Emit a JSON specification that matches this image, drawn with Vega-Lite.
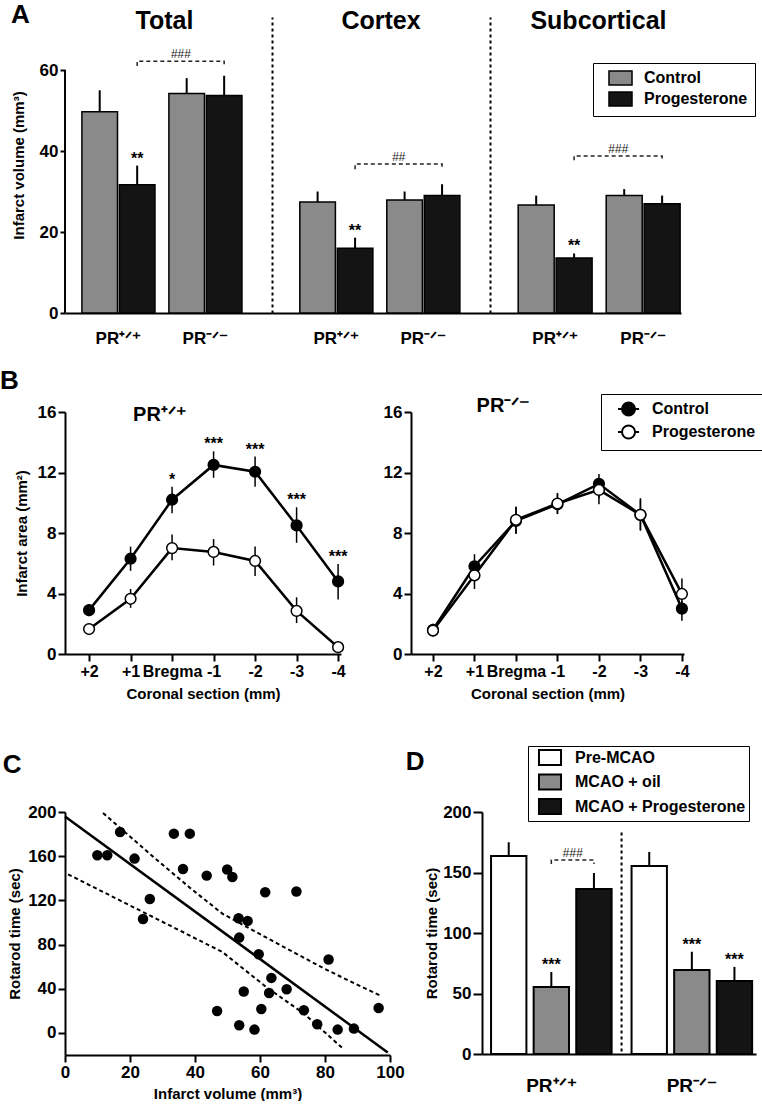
{
  "$schema": "https://vega.github.io/schema/vega-lite/v6.json",
  "background": "white",
  "padding": {"left": 0, "top": 2, "right": 0, "bottom": 0},
  "config": {
    "font": "Liberation Sans",
    "view": {"stroke": null},
    "axis": {
      "domainColor": "black", "domainWidth": 2, "tickColor": "black", "tickWidth": 2, "tickSize": 6, "minExtent": 0,
      "labelColor": "black", "labelFont": "Liberation Sans", "labelFontWeight": "bold", "labelFontSize": 17, "labelPadding": 2,
      "titleColor": "black", "titleFont": "Liberation Sans", "titleFontWeight": "bold", "titleFontSize": 15, "grid": false, "labelBound": false
    },
    "title": {"font": "Liberation Sans", "fontWeight": "bold", "color": "black"},
    "legend": {"labelFont": "Liberation Sans", "labelFontWeight": "bold", "labelFontSize": 16, "labelColor": "black", "strokeColor": "black", "padding": 7, "labelLimit": 300},
    "text": {"font": "Liberation Sans", "fontWeight": "bold", "color": "black"}
  },
  "datasets": {
    "barsA": [
      {"region": "Total", "genotype": "PR⁺ᐟ⁺", "treatment": "Control", "mean": 49.7, "hi": 55.0, "sig": null},
      {"region": "Total", "genotype": "PR⁺ᐟ⁺", "treatment": "Progesterone", "mean": 31.7, "hi": 36.4, "sig": "**"},
      {"region": "Total", "genotype": "PR⁻ᐟ⁻", "treatment": "Control", "mean": 54.2, "hi": 58.0, "sig": null},
      {"region": "Total", "genotype": "PR⁻ᐟ⁻", "treatment": "Progesterone", "mean": 53.7, "hi": 58.6, "sig": null},
      {"region": "Cortex", "genotype": "PR⁺ᐟ⁺", "treatment": "Control", "mean": 27.4, "hi": 30.0, "sig": null},
      {"region": "Cortex", "genotype": "PR⁺ᐟ⁺", "treatment": "Progesterone", "mean": 16.0, "hi": 18.6, "sig": "**"},
      {"region": "Cortex", "genotype": "PR⁻ᐟ⁻", "treatment": "Control", "mean": 27.9, "hi": 30.0, "sig": null},
      {"region": "Cortex", "genotype": "PR⁻ᐟ⁻", "treatment": "Progesterone", "mean": 29.0, "hi": 31.8, "sig": null},
      {"region": "Subcortical", "genotype": "PR⁺ᐟ⁺", "treatment": "Control", "mean": 26.7, "hi": 29.0, "sig": null},
      {"region": "Subcortical", "genotype": "PR⁺ᐟ⁺", "treatment": "Progesterone", "mean": 13.6, "hi": 14.7, "sig": "**"},
      {"region": "Subcortical", "genotype": "PR⁻ᐟ⁻", "treatment": "Control", "mean": 29.0, "hi": 30.6, "sig": null},
      {"region": "Subcortical", "genotype": "PR⁻ᐟ⁻", "treatment": "Progesterone", "mean": 27.0, "hi": 29.0, "sig": null}
    ],
    "bracketsA": [
      {"region": "Total", "genotype": "PR⁺ᐟ⁺", "treatment": "Progesterone", "y": 61.0, "ord": 1, "label": null},
      {"region": "Total", "genotype": "PR⁺ᐟ⁺", "treatment": "Progesterone", "y": 62.2, "ord": 2, "label": "###"},
      {"region": "Total", "genotype": "PR⁻ᐟ⁻", "treatment": "Progesterone", "y": 62.2, "ord": 3, "label": null},
      {"region": "Total", "genotype": "PR⁻ᐟ⁻", "treatment": "Progesterone", "y": 61.0, "ord": 4, "label": null},
      {"region": "Cortex", "genotype": "PR⁺ᐟ⁺", "treatment": "Progesterone", "y": 35.5, "ord": 1, "label": null},
      {"region": "Cortex", "genotype": "PR⁺ᐟ⁺", "treatment": "Progesterone", "y": 36.8, "ord": 2, "label": "##"},
      {"region": "Cortex", "genotype": "PR⁻ᐟ⁻", "treatment": "Progesterone", "y": 36.8, "ord": 3, "label": null},
      {"region": "Cortex", "genotype": "PR⁻ᐟ⁻", "treatment": "Progesterone", "y": 35.5, "ord": 4, "label": null},
      {"region": "Subcortical", "genotype": "PR⁺ᐟ⁺", "treatment": "Progesterone", "y": 37.7, "ord": 1, "label": null},
      {"region": "Subcortical", "genotype": "PR⁺ᐟ⁺", "treatment": "Progesterone", "y": 38.8, "ord": 2, "label": "###"},
      {"region": "Subcortical", "genotype": "PR⁻ᐟ⁻", "treatment": "Progesterone", "y": 38.8, "ord": 3, "label": null},
      {"region": "Subcortical", "genotype": "PR⁻ᐟ⁻", "treatment": "Progesterone", "y": 37.7, "ord": 4, "label": null}
    ],
    "lineB": [
      {"genotype": "PR⁺ᐟ⁺", "treatment": "Control", "section": 2, "mean": 2.9, "lo": 2.5, "hi": 3.3, "sig": null},
      {"genotype": "PR⁺ᐟ⁺", "treatment": "Control", "section": 1, "mean": 6.3, "lo": 5.5, "hi": 7.1, "sig": null},
      {"genotype": "PR⁺ᐟ⁺", "treatment": "Control", "section": 0, "mean": 10.2, "lo": 9.3, "hi": 11.05, "sig": "*"},
      {"genotype": "PR⁺ᐟ⁺", "treatment": "Control", "section": -1, "mean": 12.5, "lo": 11.65, "hi": 13.4, "sig": "***"},
      {"genotype": "PR⁺ᐟ⁺", "treatment": "Control", "section": -2, "mean": 12.05, "lo": 11.05, "hi": 13.05, "sig": "***"},
      {"genotype": "PR⁺ᐟ⁺", "treatment": "Control", "section": -3, "mean": 8.5, "lo": 7.35, "hi": 9.7, "sig": "***"},
      {"genotype": "PR⁺ᐟ⁺", "treatment": "Control", "section": -4, "mean": 4.8, "lo": 3.6, "hi": 5.95, "sig": "***"},
      {"genotype": "PR⁺ᐟ⁺", "treatment": "Progesterone", "section": 2, "mean": 1.65, "lo": 1.35, "hi": 1.95, "sig": null},
      {"genotype": "PR⁺ᐟ⁺", "treatment": "Progesterone", "section": 1, "mean": 3.65, "lo": 3.05, "hi": 4.3, "sig": null},
      {"genotype": "PR⁺ᐟ⁺", "treatment": "Progesterone", "section": 0, "mean": 7.0, "lo": 6.2, "hi": 7.9, "sig": null},
      {"genotype": "PR⁺ᐟ⁺", "treatment": "Progesterone", "section": -1, "mean": 6.75, "lo": 5.85, "hi": 7.6, "sig": null},
      {"genotype": "PR⁺ᐟ⁺", "treatment": "Progesterone", "section": -2, "mean": 6.15, "lo": 5.15, "hi": 7.1, "sig": null},
      {"genotype": "PR⁺ᐟ⁺", "treatment": "Progesterone", "section": -3, "mean": 2.85, "lo": 2.05, "hi": 3.75, "sig": null},
      {"genotype": "PR⁺ᐟ⁺", "treatment": "Progesterone", "section": -4, "mean": 0.45, "lo": 0.3, "hi": 0.6, "sig": null},
      {"genotype": "PR⁻ᐟ⁻", "treatment": "Control", "section": 2, "mean": 1.6, "lo": 1.2, "hi": 2.0, "sig": null},
      {"genotype": "PR⁻ᐟ⁻", "treatment": "Control", "section": 1, "mean": 5.8, "lo": 5.0, "hi": 6.6, "sig": null},
      {"genotype": "PR⁻ᐟ⁻", "treatment": "Control", "section": 0, "mean": 8.8, "lo": 7.95, "hi": 9.7, "sig": null},
      {"genotype": "PR⁻ᐟ⁻", "treatment": "Control", "section": -1, "mean": 9.9, "lo": 9.25, "hi": 10.6, "sig": null},
      {"genotype": "PR⁻ᐟ⁻", "treatment": "Control", "section": -2, "mean": 11.25, "lo": 10.3, "hi": 11.9, "sig": null},
      {"genotype": "PR⁻ᐟ⁻", "treatment": "Control", "section": -3, "mean": 9.2, "lo": 8.2, "hi": 10.2, "sig": null},
      {"genotype": "PR⁻ᐟ⁻", "treatment": "Control", "section": -4, "mean": 3.0, "lo": 2.2, "hi": 3.5, "sig": null},
      {"genotype": "PR⁻ᐟ⁻", "treatment": "Progesterone", "section": 2, "mean": 1.55, "lo": 1.15, "hi": 1.95, "sig": null},
      {"genotype": "PR⁻ᐟ⁻", "treatment": "Progesterone", "section": 1, "mean": 5.2, "lo": 4.3, "hi": 6.0, "sig": null},
      {"genotype": "PR⁻ᐟ⁻", "treatment": "Progesterone", "section": 0, "mean": 8.87, "lo": 7.95, "hi": 9.75, "sig": null},
      {"genotype": "PR⁻ᐟ⁻", "treatment": "Progesterone", "section": -1, "mean": 9.95, "lo": 9.25, "hi": 10.65, "sig": null},
      {"genotype": "PR⁻ᐟ⁻", "treatment": "Progesterone", "section": -2, "mean": 10.85, "lo": 9.9, "hi": 11.5, "sig": null},
      {"genotype": "PR⁻ᐟ⁻", "treatment": "Progesterone", "section": -3, "mean": 9.2, "lo": 8.15, "hi": 10.3, "sig": null},
      {"genotype": "PR⁻ᐟ⁻", "treatment": "Progesterone", "section": -4, "mean": 3.97, "lo": 3.05, "hi": 5.0, "sig": null}
    ],
    "scatterC": [
      {"x": 9.95, "y": 160.8}, {"x": 13.0, "y": 160.8}, {"x": 16.95, "y": 181.9}, {"x": 21.4, "y": 157.8},
      {"x": 26.1, "y": 121.3}, {"x": 24.0, "y": 103.2}, {"x": 33.5, "y": 180.4}, {"x": 38.4, "y": 180.4},
      {"x": 36.3, "y": 148.4}, {"x": 43.6, "y": 142.4}, {"x": 46.8, "y": 19.9}, {"x": 49.9, "y": 147.9},
      {"x": 51.5, "y": 141.2}, {"x": 61.6, "y": 127.3}, {"x": 71.2, "y": 128.0}, {"x": 53.4, "y": 103.8},
      {"x": 56.2, "y": 101.4}, {"x": 53.6, "y": 86.3}, {"x": 59.6, "y": 71.2}, {"x": 81.1, "y": 66.4},
      {"x": 63.5, "y": 49.8}, {"x": 62.8, "y": 36.2}, {"x": 68.2, "y": 39.5}, {"x": 55.0, "y": 37.5},
      {"x": 60.4, "y": 21.7}, {"x": 73.5, "y": 20.5}, {"x": 96.5, "y": 22.6}, {"x": 53.6, "y": 7.0},
      {"x": 58.3, "y": 3.0}, {"x": 77.6, "y": 7.9}, {"x": 83.9, "y": 3.0}, {"x": 88.9, "y": 3.9}
    ],
    "fitC": [
      {"series": "fit", "x": 0, "y": 196},
      {"series": "fit", "x": 99.3, "y": -17.7},
      {"series": "upper", "x": 11.7, "y": 199.1},
      {"series": "upper", "x": 27.9, "y": 157.5},
      {"series": "upper", "x": 38.4, "y": 131.5},
      {"series": "upper", "x": 48.4, "y": 108.0},
      {"series": "upper", "x": 64.0, "y": 83.0},
      {"series": "upper", "x": 79.7, "y": 58.3},
      {"series": "upper", "x": 90.2, "y": 43.2},
      {"series": "upper", "x": 97.5, "y": 33.2},
      {"series": "lower", "x": 0.94, "y": 143.6},
      {"series": "lower", "x": 48.4, "y": 73.3},
      {"series": "lower", "x": 61.9, "y": 41.6},
      {"series": "lower", "x": 73.5, "y": 17.5},
      {"series": "lower", "x": 85.5, "y": -14.1}
    ],
    "barsD": [
      {"genotype": "PR⁺ᐟ⁺", "group": "Pre-MCAO", "mean": 163.6, "hi": 175.0, "sig": null},
      {"genotype": "PR⁺ᐟ⁺", "group": "MCAO + oil", "mean": 55.4, "hi": 67.8, "sig": "***"},
      {"genotype": "PR⁺ᐟ⁺", "group": "MCAO + Progesterone", "mean": 136.4, "hi": 149.6, "sig": null},
      {"genotype": "PR⁻ᐟ⁻", "group": "Pre-MCAO", "mean": 155.4, "hi": 167.0, "sig": null},
      {"genotype": "PR⁻ᐟ⁻", "group": "MCAO + oil", "mean": 69.4, "hi": 84.5, "sig": "***"},
      {"genotype": "PR⁻ᐟ⁻", "group": "MCAO + Progesterone", "mean": 60.4, "hi": 72.0, "sig": "***"}
    ],
    "bracketD": [
      {"genotype": "PR⁺ᐟ⁺", "group": "MCAO + oil", "y": 157, "ord": 1, "label": null},
      {"genotype": "PR⁺ᐟ⁺", "group": "MCAO + oil", "y": 160.3, "ord": 2, "label": "###"},
      {"genotype": "PR⁺ᐟ⁺", "group": "MCAO + Progesterone", "y": 160.3, "ord": 3, "label": null},
      {"genotype": "PR⁺ᐟ⁺", "group": "MCAO + Progesterone", "y": 157, "ord": 4, "label": null}
    ],
    "sepD": [{"genotype": "PR⁻ᐟ⁻"}],
    "axisA": [{"genotype": "PR⁺ᐟ⁺"}]
  },
  "columns": 1,
  "align": "none",
  "spacing": 21,
  "resolve": {"scale": {"color": "independent", "fill": "independent", "xOffset": "independent"}},
  "concat": [
    {
      "title": {"text": "A", "anchor": "start", "frame": "bounds", "fontSize": 26, "offset": -19, "dx": 0},
      "spacing": 0,
      "resolve": {"scale": {"color": "independent", "xOffset": "independent"}},
      "hconcat": [
        {
          "width": 207, "height": 296,
          "title": {"text": "Total", "fontSize": 25, "offset": -17, "dx": -4},
          "layer": [
            {"data": {"name": "barsA"}, "transform": [{"filter": "datum.region === 'Total'"}],
             "mark": {"type": "bar", "stroke": "black", "strokeWidth": 1.5},
             "encoding": {
               "x": {"field": "genotype", "type": "nominal", "sort": ["PR⁺ᐟ⁺", "PR⁻ᐟ⁻"], "scale": {"paddingInner": 0.16, "paddingOuter": 0.27, "align": 0.36}, "axis": {"title": null, "ticks": false, "labelAngle": 0, "labelPadding": 17, "labelFontSize": 17}},
               "xOffset": {"field": "treatment", "type": "nominal", "sort": ["Control", "Progesterone"], "scale": {"paddingInner": 0.05, "paddingOuter": 0}},
               "y": {"field": "mean", "type": "quantitative", "scale": {"domain": [0, 73.1], "nice": false}, "axis": {"values": [0, 20, 40, 60], "title": "Infarct volume (mm³)", "titlePadding": 13, "tickSize": 5, "domain": false}},
               "color": {"field": "treatment", "type": "nominal", "scale": {"domain": ["Control", "Progesterone"], "range": ["#8a8a8a", "#141414"]}, "legend": null}
             }},
            {"data": {"name": "axisA"},
             "mark": {"type": "rule", "color": "black", "strokeWidth": 2},
             "encoding": {
               "x": {"field": "genotype", "type": "nominal", "sort": ["PR⁺ᐟ⁺", "PR⁻ᐟ⁻"], "bandPosition": -0.231},
               "y": {"datum": 60, "type": "quantitative"}, "y2": {"datum": 0}
             }},
            {"data": {"name": "barsA"}, "transform": [{"filter": "datum.region === 'Total'"}],
             "mark": {"type": "rule", "color": "black", "strokeWidth": 2},
             "encoding": {
               "x": {"field": "genotype", "type": "nominal", "sort": ["PR⁺ᐟ⁺", "PR⁻ᐟ⁻"]},
               "xOffset": {"field": "treatment", "type": "nominal", "sort": ["Control", "Progesterone"]},
               "y": {"field": "mean", "type": "quantitative"}, "y2": {"field": "hi"}
             }},
            {"data": {"name": "barsA"}, "transform": [{"filter": "datum.region === 'Total' && datum.sig"}],
             "mark": {"type": "text", "fontSize": 16, "dy": -2, "baseline": "alphabetic"},
             "encoding": {
               "x": {"field": "genotype", "type": "nominal", "sort": ["PR⁺ᐟ⁺", "PR⁻ᐟ⁻"]},
               "xOffset": {"field": "treatment", "type": "nominal", "sort": ["Control", "Progesterone"]},
               "y": {"field": "hi", "type": "quantitative"}, "text": {"field": "sig"}
             }},
            {"data": {"name": "bracketsA"}, "transform": [{"filter": "datum.region === 'Total'"}],
             "mark": {"type": "line", "color": "#222222", "strokeWidth": 1.5, "strokeDash": [4, 3]},
             "encoding": {
               "x": {"field": "genotype", "type": "nominal", "sort": ["PR⁺ᐟ⁺", "PR⁻ᐟ⁻"]},
               "xOffset": {"field": "treatment", "type": "nominal", "sort": ["Control", "Progesterone"]},
               "y": {"field": "y", "type": "quantitative"}, "order": {"field": "ord"}
             }},
            {"data": {"name": "bracketsA"}, "transform": [{"filter": "datum.region === 'Total' && datum.label"}],
             "mark": {"type": "text", "fontSize": 12, "fontStyle": "italic", "fontWeight": "normal", "color": "#222222", "dx": 43.5, "dy": -7},
             "encoding": {
               "x": {"field": "genotype", "type": "nominal", "sort": ["PR⁺ᐟ⁺", "PR⁻ᐟ⁻"]},
               "xOffset": {"field": "treatment", "type": "nominal", "sort": ["Control", "Progesterone"]},
               "y": {"field": "y", "type": "quantitative"}, "text": {"field": "label"}
             }}
          ]
        },
        {
          "width": 218, "height": 296,
          "title": {"text": "Cortex", "fontSize": 25, "offset": -17},
          "layer": [
            {"data": {"name": "barsA"}, "transform": [{"filter": "datum.region === 'Cortex'"}],
             "mark": {"type": "bar", "stroke": "black", "strokeWidth": 1.5},
             "encoding": {
               "x": {"field": "genotype", "type": "nominal", "sort": ["PR⁺ᐟ⁺", "PR⁻ᐟ⁻"], "scale": {"paddingInner": 0.16, "paddingOuter": 0.333, "align": 0.48}, "axis": {"title": null, "ticks": false, "labelAngle": 0, "labelPadding": 17, "labelFontSize": 17}},
               "xOffset": {"field": "treatment", "type": "nominal", "sort": ["Control", "Progesterone"], "scale": {"paddingInner": 0.05, "paddingOuter": 0}},
               "y": {"field": "mean", "type": "quantitative", "scale": {"domain": [0, 73.1], "nice": false}, "axis": {"title": null, "labels": false, "ticks": false, "domainDash": [3, 3], "domainWidth": 2, "minExtent": 0}},
               "color": {"field": "treatment", "type": "nominal", "scale": {"domain": ["Control", "Progesterone"], "range": ["#8a8a8a", "#141414"]}, "legend": null}
             }},
            {"data": {"name": "barsA"}, "transform": [{"filter": "datum.region === 'Cortex'"}],
             "mark": {"type": "rule", "color": "black", "strokeWidth": 2},
             "encoding": {
               "x": {"field": "genotype", "type": "nominal", "sort": ["PR⁺ᐟ⁺", "PR⁻ᐟ⁻"]},
               "xOffset": {"field": "treatment", "type": "nominal", "sort": ["Control", "Progesterone"]},
               "y": {"field": "mean", "type": "quantitative"}, "y2": {"field": "hi"}
             }},
            {"data": {"name": "barsA"}, "transform": [{"filter": "datum.region === 'Cortex' && datum.sig"}],
             "mark": {"type": "text", "fontSize": 16, "dy": -2, "baseline": "alphabetic"},
             "encoding": {
               "x": {"field": "genotype", "type": "nominal", "sort": ["PR⁺ᐟ⁺", "PR⁻ᐟ⁻"]},
               "xOffset": {"field": "treatment", "type": "nominal", "sort": ["Control", "Progesterone"]},
               "y": {"field": "hi", "type": "quantitative"}, "text": {"field": "sig"}
             }},
            {"data": {"name": "bracketsA"}, "transform": [{"filter": "datum.region === 'Cortex'"}],
             "mark": {"type": "line", "color": "#222222", "strokeWidth": 1.5, "strokeDash": [4, 3]},
             "encoding": {
               "x": {"field": "genotype", "type": "nominal", "sort": ["PR⁺ᐟ⁺", "PR⁻ᐟ⁻"]},
               "xOffset": {"field": "treatment", "type": "nominal", "sort": ["Control", "Progesterone"]},
               "y": {"field": "y", "type": "quantitative"}, "order": {"field": "ord"}
             }},
            {"data": {"name": "bracketsA"}, "transform": [{"filter": "datum.region === 'Cortex' && datum.label"}],
             "mark": {"type": "text", "fontSize": 12, "fontStyle": "italic", "fontWeight": "normal", "color": "#222222", "dx": 43.5, "dy": -7},
             "encoding": {
               "x": {"field": "genotype", "type": "nominal", "sort": ["PR⁺ᐟ⁺", "PR⁻ᐟ⁻"]},
               "xOffset": {"field": "treatment", "type": "nominal", "sort": ["Control", "Progesterone"]},
               "y": {"field": "y", "type": "quantitative"}, "text": {"field": "label"}
             }}
          ]
        },
        {
          "width": 191, "height": 296,
          "title": {"text": "Subcortical", "fontSize": 25, "offset": -17, "dx": 13},
          "layer": [
            {"data": {"name": "barsA"}, "transform": [{"filter": "datum.region === 'Subcortical'"}],
             "mark": {"type": "bar", "stroke": "black", "strokeWidth": 1.5},
             "encoding": {
               "x": {"field": "genotype", "type": "nominal", "sort": ["PR⁺ᐟ⁺", "PR⁻ᐟ⁻"], "scale": {"paddingInner": 0.16, "paddingOuter": 0.165, "align": 0.97}, "axis": {"title": null, "ticks": false, "labelAngle": 0, "labelPadding": 17, "labelFontSize": 17}},
               "xOffset": {"field": "treatment", "type": "nominal", "sort": ["Control", "Progesterone"], "scale": {"paddingInner": 0.05, "paddingOuter": 0}},
               "y": {"field": "mean", "type": "quantitative", "scale": {"domain": [0, 73.1], "nice": false}, "axis": {"title": null, "labels": false, "ticks": false, "domainDash": [3, 3], "domainWidth": 2, "minExtent": 0}},
               "color": {"field": "treatment", "type": "nominal", "scale": {"domain": ["Control", "Progesterone"], "range": ["#8a8a8a", "#141414"]},
                         "legend": {"orient": "none", "legendX": 103, "legendY": 46, "title": null, "symbolType": "M0.14,-1H3.43V1H0.14Z", "symbolSize": 196, "symbolStrokeColor": "black", "symbolStrokeWidth": 1.5, "rowPadding": 1, "labelOffset": 28, "padding": 7}}
             }},
            {"data": {"name": "barsA"}, "transform": [{"filter": "datum.region === 'Subcortical'"}],
             "mark": {"type": "rule", "color": "black", "strokeWidth": 2},
             "encoding": {
               "x": {"field": "genotype", "type": "nominal", "sort": ["PR⁺ᐟ⁺", "PR⁻ᐟ⁻"]},
               "xOffset": {"field": "treatment", "type": "nominal", "sort": ["Control", "Progesterone"]},
               "y": {"field": "mean", "type": "quantitative"}, "y2": {"field": "hi"}
             }},
            {"data": {"name": "barsA"}, "transform": [{"filter": "datum.region === 'Subcortical' && datum.sig"}],
             "mark": {"type": "text", "fontSize": 16, "dy": -2, "baseline": "alphabetic"},
             "encoding": {
               "x": {"field": "genotype", "type": "nominal", "sort": ["PR⁺ᐟ⁺", "PR⁻ᐟ⁻"]},
               "xOffset": {"field": "treatment", "type": "nominal", "sort": ["Control", "Progesterone"]},
               "y": {"field": "hi", "type": "quantitative"}, "text": {"field": "sig"}
             }},
            {"data": {"name": "bracketsA"}, "transform": [{"filter": "datum.region === 'Subcortical'"}],
             "mark": {"type": "line", "color": "#222222", "strokeWidth": 1.5, "strokeDash": [4, 3]},
             "encoding": {
               "x": {"field": "genotype", "type": "nominal", "sort": ["PR⁺ᐟ⁺", "PR⁻ᐟ⁻"]},
               "xOffset": {"field": "treatment", "type": "nominal", "sort": ["Control", "Progesterone"]},
               "y": {"field": "y", "type": "quantitative"}, "order": {"field": "ord"}
             }},
            {"data": {"name": "bracketsA"}, "transform": [{"filter": "datum.region === 'Subcortical' && datum.label"}],
             "mark": {"type": "text", "fontSize": 12, "fontStyle": "italic", "fontWeight": "normal", "color": "#222222", "dx": 44, "dy": -7},
             "encoding": {
               "x": {"field": "genotype", "type": "nominal", "sort": ["PR⁺ᐟ⁺", "PR⁻ᐟ⁻"]},
               "xOffset": {"field": "treatment", "type": "nominal", "sort": ["Control", "Progesterone"]},
               "y": {"field": "y", "type": "quantitative"}, "text": {"field": "label"}
             }}
          ]
        }
      ]
    },
    {
      "title": {"text": "B", "anchor": "start", "frame": "bounds", "fontSize": 26, "offset": 0, "dx": -14},
      "spacing": 35,
      "resolve": {"scale": {"fill": "independent"}},
      "hconcat": [
        {
          "width": 276, "height": 242,
          "title": {"text": "PR⁺ᐟ⁺", "anchor": "middle", "dx": -43, "fontSize": 20, "offset": -22},
          "data": {"name": "lineB"},
          "transform": [{"filter": "datum.genotype === 'PR⁺ᐟ⁺'"}],
          "encoding": {
            "x": {"field": "section", "type": "quantitative", "scale": {"domain": [-4.07, 2.58], "reverse": true, "nice": false, "zero": false},
                  "axis": {"values": [2, 1, 0, -1, -2, -3, -4], "labelExpr": "datum.value == 0 ? 'Bregma' : (datum.value > 0 ? '+' + datum.value : '' + datum.value)", "title": "Coronal section (mm)", "tickSize": 7, "labelFontSize": 16, "labelFlush": false, "labelOverlap": false, "titlePadding": 7}}
          },
          "layer": [
            {"mark": {"type": "line", "color": "black", "strokeWidth": 2.5},
             "encoding": {"y": {"field": "mean", "type": "quantitative", "scale": {"domain": [0, 16], "nice": false}, "axis": {"values": [0, 4, 8, 12, 16], "title": "Infarct area (mm²)", "tickSize": 7, "titlePadding": 8}}, "detail": {"field": "treatment"}}},
            {"mark": {"type": "rule", "color": "black", "strokeWidth": 1.5},
             "encoding": {"y": {"field": "lo", "type": "quantitative"}, "y2": {"field": "hi"}}},
            {"mark": {"type": "point", "filled": true, "size": 115, "stroke": "black", "strokeWidth": 1.5, "opacity": 1},
             "encoding": {"y": {"field": "mean", "type": "quantitative"}, "fill": {"field": "treatment", "type": "nominal", "scale": {"domain": ["Control", "Progesterone"], "range": ["black", "white"]}, "legend": null}}},
            {"transform": [{"filter": "datum.sig"}],
             "mark": {"type": "text", "fontSize": 16, "dy": -2, "baseline": "alphabetic"},
             "encoding": {"y": {"field": "hi", "type": "quantitative"}, "text": {"field": "sig"}}}
          ]
        },
        {
          "width": 273, "height": 242,
          "title": {"text": "PR⁻ᐟ⁻", "anchor": "middle", "dx": -44, "fontSize": 20, "offset": -22},
          "data": {"name": "lineB"},
          "transform": [{"filter": "datum.genotype === 'PR⁻ᐟ⁻'"}],
          "encoding": {
            "x": {"field": "section", "type": "quantitative", "scale": {"domain": [-4.05, 2.53], "reverse": true, "nice": false, "zero": false},
                  "axis": {"values": [2, 1, 0, -1, -2, -3, -4], "labelExpr": "datum.value == 0 ? 'Bregma' : (datum.value > 0 ? '+' + datum.value : '' + datum.value)", "title": "Coronal section (mm)", "tickSize": 7, "labelFontSize": 16, "labelFlush": false, "labelOverlap": false, "titlePadding": 7}}
          },
          "layer": [
            {"mark": {"type": "line", "color": "black", "strokeWidth": 2.5},
             "encoding": {"y": {"field": "mean", "type": "quantitative", "scale": {"domain": [0, 16], "nice": false}, "axis": {"values": [0, 4, 8, 12, 16], "title": null, "tickSize": 7}}, "detail": {"field": "treatment"}}},
            {"mark": {"type": "rule", "color": "black", "strokeWidth": 1.5},
             "encoding": {"y": {"field": "lo", "type": "quantitative"}, "y2": {"field": "hi"}}},
            {"mark": {"type": "point", "filled": true, "size": 115, "stroke": "black", "strokeWidth": 1.5, "opacity": 1},
             "encoding": {"y": {"field": "mean", "type": "quantitative"}, "fill": {"field": "treatment", "type": "nominal", "scale": {"domain": ["Control", "Progesterone"], "range": ["black", "white"]},
               "legend": {"orient": "none", "legendX": 190, "legendY": -18, "title": null, "symbolType": "M0.29,0H0.86M2.72,0H3.29M0.86,0A0.93,0.93,0,1,0,2.72,0A0.93,0.93,0,1,0,0.86,0Z", "symbolSize": 196, "symbolStrokeColor": "black", "symbolStrokeWidth": 2, "rowPadding": 1, "labelOffset": 28, "padding": 7}}}}
          ]
        }
      ]
    },
    {
      "title": {"text": " ", "fontSize": 12, "offset": 10},
      "spacing": 0,
      "resolve": {"scale": {"color": "independent", "xOffset": "independent"}},
      "hconcat": [
        {
          "width": 325, "height": 243,
          "title": {"text": "C", "anchor": "start", "frame": "bounds", "fontSize": 26, "offset": 25, "dx": -5},
          "layer": [
            {"data": {"name": "fitC"}, "transform": [{"filter": "datum.series === 'fit'"}],
             "mark": {"type": "line", "color": "black", "strokeWidth": 2.5},
             "encoding": {
               "x": {"field": "x", "type": "quantitative", "scale": {"domain": [0, 100], "nice": false}, "axis": {"values": [0, 20, 40, 60, 80, 100], "title": "Infarct volume (mm³)", "labelFlush": false, "tickSize": 7, "titlePadding": 6}},
               "y": {"field": "y", "type": "quantitative", "scale": {"domain": [-20, 200], "nice": false, "zero": false}, "axis": {"values": [0, 40, 80, 120, 160, 200], "title": "Rotarod time (sec)", "tickSize": 7, "titlePadding": 5, "labelFlush": false}}
             }},
            {"data": {"name": "fitC"}, "transform": [{"filter": "datum.series !== 'fit'"}],
             "mark": {"type": "line", "color": "black", "strokeWidth": 2, "strokeDash": [4, 3]},
             "encoding": {"x": {"field": "x", "type": "quantitative"}, "y": {"field": "y", "type": "quantitative"}, "detail": {"field": "series"}}},
            {"data": {"name": "scatterC"},
             "mark": {"type": "circle", "size": 110, "color": "black", "opacity": 1},
             "encoding": {"x": {"field": "x", "type": "quantitative"}, "y": {"field": "y", "type": "quantitative"}}}
          ]
        },
        {
          "width": 274, "height": 242,
          "title": {"text": "D", "anchor": "start", "frame": "bounds", "fontSize": 26, "offset": -29, "dx": -19},
          "layer": [
            {"data": {"name": "barsD"},
             "mark": {"type": "bar", "stroke": "black", "strokeWidth": 2},
             "encoding": {
               "x": {"field": "genotype", "type": "nominal", "sort": ["PR⁺ᐟ⁺", "PR⁻ᐟ⁻"], "scale": {"paddingInner": 0.142, "paddingOuter": 0.046, "align": 0.7}, "axis": {"title": null, "ticks": false, "labelAngle": 0, "labelPadding": 22, "labelFontSize": 19}},
               "xOffset": {"field": "group", "type": "nominal", "sort": ["Pre-MCAO", "MCAO + oil", "MCAO + Progesterone"], "scale": {"paddingInner": 0.17, "paddingOuter": 0}},
               "y": {"field": "mean", "type": "quantitative", "scale": {"domain": [0, 200], "nice": false}, "axis": {"values": [0, 50, 100, 150, 200], "title": "Rotarod time (sec)", "tickSize": 9, "titlePadding": 3}},
               "color": {"field": "group", "type": "nominal", "scale": {"domain": ["Pre-MCAO", "MCAO + oil", "MCAO + Progesterone"], "range": ["white", "#8a8a8a", "#141414"]},
                         "legend": {"orient": "none", "legendX": 46, "legendY": -66, "title": null, "symbolType": "M-0.07,-1H2.87V1H-0.07Z", "symbolSize": 225, "symbolStrokeColor": "black", "symbolStrokeWidth": 2, "rowPadding": 1.5, "labelOffset": 27, "padding": 3}}
             }},
            {"data": {"name": "barsD"},
             "mark": {"type": "rule", "color": "black", "strokeWidth": 2},
             "encoding": {
               "x": {"field": "genotype", "type": "nominal", "sort": ["PR⁺ᐟ⁺", "PR⁻ᐟ⁻"]},
               "xOffset": {"field": "group", "type": "nominal", "sort": ["Pre-MCAO", "MCAO + oil", "MCAO + Progesterone"]},
               "y": {"field": "mean", "type": "quantitative"}, "y2": {"field": "hi"}
             }},
            {"data": {"name": "barsD"}, "transform": [{"filter": "datum.sig"}],
             "mark": {"type": "text", "fontSize": 16, "dy": -2, "baseline": "alphabetic"},
             "encoding": {
               "x": {"field": "genotype", "type": "nominal", "sort": ["PR⁺ᐟ⁺", "PR⁻ᐟ⁻"]},
               "xOffset": {"field": "group", "type": "nominal", "sort": ["Pre-MCAO", "MCAO + oil", "MCAO + Progesterone"]},
               "y": {"field": "hi", "type": "quantitative"}, "text": {"field": "sig"}
             }},
            {"data": {"name": "bracketD"},
             "mark": {"type": "line", "color": "#222222", "strokeWidth": 1.5, "strokeDash": [4, 3]},
             "encoding": {
               "x": {"field": "genotype", "type": "nominal", "sort": ["PR⁺ᐟ⁺", "PR⁻ᐟ⁻"]},
               "xOffset": {"field": "group", "type": "nominal", "sort": ["Pre-MCAO", "MCAO + oil", "MCAO + Progesterone"]},
               "y": {"field": "y", "type": "quantitative"}, "order": {"field": "ord"}
             }},
            {"data": {"name": "bracketD"}, "transform": [{"filter": "datum.label"}],
             "mark": {"type": "text", "fontSize": 12, "fontStyle": "italic", "fontWeight": "normal", "color": "#222222", "dx": 21.3, "dy": -7},
             "encoding": {
               "x": {"field": "genotype", "type": "nominal", "sort": ["PR⁺ᐟ⁺", "PR⁻ᐟ⁻"]},
               "xOffset": {"field": "group", "type": "nominal", "sort": ["Pre-MCAO", "MCAO + oil", "MCAO + Progesterone"]},
               "y": {"field": "y", "type": "quantitative"}, "text": {"field": "label"}
             }},
            {"data": {"name": "sepD"},
             "mark": {"type": "rule", "color": "black", "strokeWidth": 2, "strokeDash": [3, 3]},
             "encoding": {
               "x": {"field": "genotype", "type": "nominal", "sort": ["PR⁺ᐟ⁺", "PR⁻ᐟ⁻"], "bandPosition": -0.083},
               "y": {"datum": 183, "type": "quantitative"}, "y2": {"datum": 0}
             }}
          ]
        }
      ]
    }
  ]
}
